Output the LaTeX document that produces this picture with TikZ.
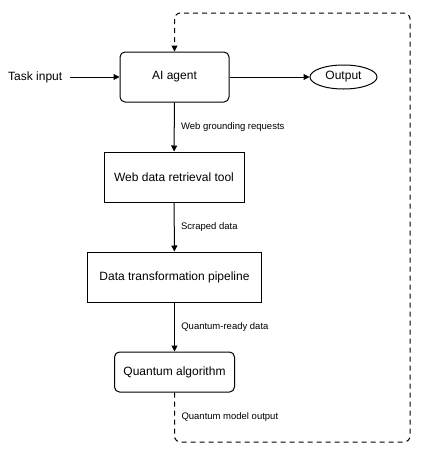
\documentclass[tikz,border=0pt]{standalone}
\usepackage{fontspec}
\setmainfont{Liberation Sans}
\usetikzlibrary{arrows.meta, shapes.geometric}

\begin{document}
\begin{tikzpicture}[x=1pt, y=-1pt, font=\fontsize{12}{14}\selectfont,
    caja/.style={draw, line width=1pt, minimum height=50pt, inner sep=0pt},
    redondeada/.style={caja, rounded corners=5pt},
    flecha/.style={-{Triangle[length=6pt,width=6pt]}, line width=1pt},
    rotulo/.style={font=\fontsize{9.5}{11}\selectfont, anchor=west}]

    \useasboundingbox (0,0) rectangle (422,453);

    % nodos principales
    \node[redondeada, minimum width=109pt] (agente) at (174.5,77) {AI agent};
    \node[caja, minimum width=140pt] (web) at (174,177) {Web data retrieval tool};
    \node[caja, minimum width=174pt] (pipeline) at (174.5,277) {Data transformation pipeline};
    \node[redondeada, minimum width=120pt, minimum height=40pt] (cuantico) at (174.5,372) {Quantum algorithm};
    \node[draw, ellipse, line width=1pt, minimum width=67pt, minimum height=24pt, inner sep=0pt] (salida) at (343.5,77) {Output};
    \node[anchor=west, inner sep=0pt] (tarea) at (8,77) {Task input};

    % conexiones
    \draw[flecha] (tarea.east) ++(8,0) coordinate (inicio) -- (agente.west);
    \draw[flecha] (agente) -- (salida);
    \draw[flecha] (agente) -- (web) node[rotulo, midway, xshift=3pt] {Web grounding requests};
    \draw[flecha] (web) -- (pipeline) node[rotulo, midway, xshift=3pt] {Scraped data};
    \draw[flecha] (pipeline) -- (cuantico) node[rotulo, midway, xshift=3pt] {Quantum-ready data};

    % retroalimentacion
    \coordinate (abajo) at (410,442);
    \coordinate (arriba) at (410,13);
    \draw[flecha, dashed, dash pattern=on 5pt off 4pt, rounded corners=6pt]
        (cuantico.south) -- (cuantico.south |- abajo) -- (abajo) -- (arriba)
        -- (agente.north |- arriba) -- (agente.north);
    \node[rotulo] (etiqueta) at (178,417) {Quantum model output};

\end{tikzpicture}
\end{document}
